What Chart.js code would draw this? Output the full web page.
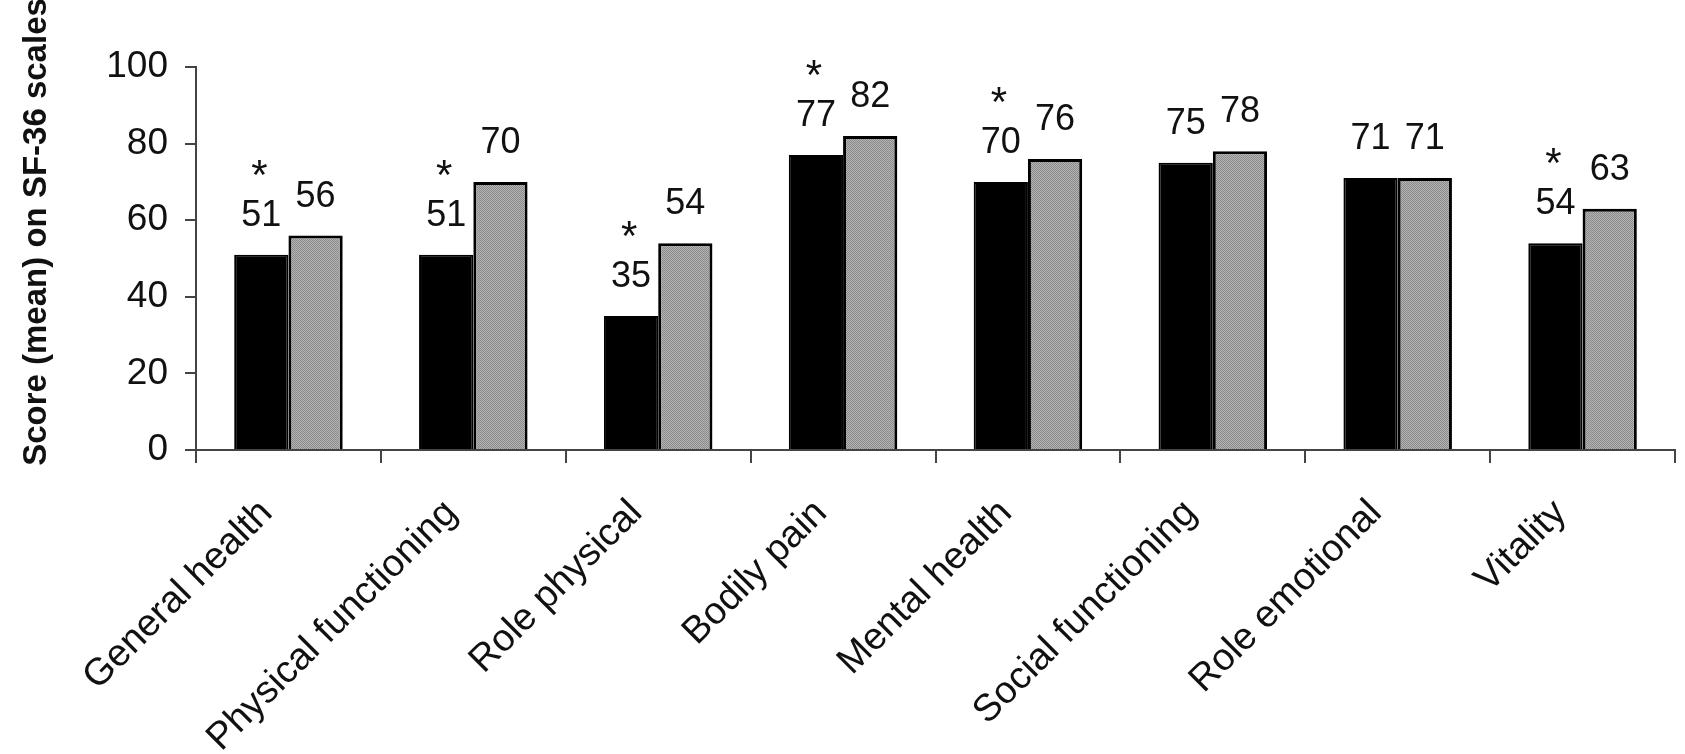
<!DOCTYPE html>
<html>
<head>
<meta charset="utf-8">
<script src="https://cdn.jsdelivr.net/npm/chart.js@4/dist/chart.umd.min.js"></script>
<style>
  body { margin: 0; background: #fff; }
  #wrap { width: 1685px; height: 754px; position: relative; }
</style>
</head>
<body>
<div id="wrap"><canvas id="sfChart"></canvas></div>
<script>
    // SF-36 scale means, two groups
    var scales = ['General health', 'Physical functioning', 'Role physical', 'Bodily pain',
                  'Mental health', 'Social functioning', 'Role emotional', 'Vitality'];
    var groupA = [51, 51, 35, 77, 70, 75, 71, 54];   // black bars
    var groupB = [56, 70, 54, 82, 76, 78, 71, 63];   // grey bars
    var significant = [true, true, true, true, true, false, false, true]; // asterisk over black bar
    var yTicks = [0, 20, 40, 60, 80, 100];
    var yTitle = 'Score (mean) on SF-36 scales';

    var FONT = '"Liberation Sans", Arial, sans-serif';

    // stippled grey fill like the printed figure
    function greyPattern() {
        var c = document.createElement('canvas');
        c.width = 2; c.height = 2;
        var p = c.getContext('2d');
        p.fillStyle = '#b4b4b4';
        p.fillRect(0, 0, 2, 2);
        p.fillStyle = '#8a8a8a';
        p.fillRect(0, 0, 1, 1);
        p.fillRect(1, 1, 1, 1);
        return p.createPattern(c, 'repeat');
    }

    var valueLabels = {
        id: 'valueLabels',
        afterDatasetsDraw: function (chart) {
            var ctx = chart.ctx;
            ctx.save();
            ctx.fillStyle = '#111';
            ctx.textAlign = 'center';
            ctx.textBaseline = 'alphabetic';
            chart.data.datasets.forEach(function (ds, i) {
                chart.getDatasetMeta(i).data.forEach(function (bar, j) {
                    var y = bar.y - 29;
                    ctx.font = '36px ' + FONT;
                    ctx.fillText(ds.data[j], bar.x, y);
                    if (i === 0 && significant[j]) {
                        ctx.font = '42px ' + FONT;
                        ctx.fillText('*', bar.x - 2, y - 37);
                    }
                });
            });
            ctx.restore();
        }
    };

    var axisTitle = {
        id: 'axisTitle',
        afterDraw: function (chart) {
            var ctx = chart.ctx;
            ctx.save();
            ctx.translate(37, 232);
            ctx.rotate(-Math.PI / 2);
            ctx.font = 'bold 33px ' + FONT;
            ctx.fillStyle = '#111';
            ctx.textAlign = 'center';
            ctx.textBaseline = 'middle';
            ctx.fillText(yTitle, 0, 0);
            ctx.restore();
        }
    };

    var ctx = document.getElementById('sfChart').getContext('2d');
    var sfChart = new Chart(ctx, {
        type: 'bar',
        data: {
            labels: scales,
            datasets: [{
                data: groupA,
                backgroundColor: '#000',
                borderColor: '#000',
                borderWidth: 2
            }, {
                data: groupB,
                backgroundColor: greyPattern(),
                borderColor: '#000',
                borderWidth: 3
            }]
        },
        options: {
            responsive: true,
            maintainAspectRatio: false,
            animation: false,
            layout: { padding: { top: 67, right: 10, left: 0, bottom: 0 } },
            datasets: { bar: { categoryPercentage: 0.587, barPercentage: 1.0 } },
            plugins: {
                legend: { display: false },
                tooltip: { enabled: false }
            },
            scales: {
                x: {
                    afterFit: function (s) { s.height = 304; },
                    grid: { drawOnChartArea: false, tickLength: 13, color: '#444', lineWidth: 2 },
                    border: { color: '#444', width: 2 },
                    ticks: {
                        autoSkip: false,
                        minRotation: 45,
                        maxRotation: 45,
                        padding: 28,
                        labelOffset: -22,
                        color: '#111',
                        font: { family: FONT, size: 38 }
                    }
                },
                y: {
                    min: 0,
                    max: 100,
                    afterFit: function (s) { s.width = 196; },
                    afterBuildTicks: function (s) { s.ticks = yTicks.map(function (v) { return { value: v }; }); },
                    grid: { drawOnChartArea: false, tickLength: 11, color: '#444', lineWidth: 2 },
                    border: { color: '#444', width: 2 },
                    ticks: {
                        padding: 17,
                        color: '#111',
                        font: { family: FONT, size: 37 }
                    }
                }
            }
        },
        plugins: [valueLabels, axisTitle]
    });
</script>
</body>
</html>
